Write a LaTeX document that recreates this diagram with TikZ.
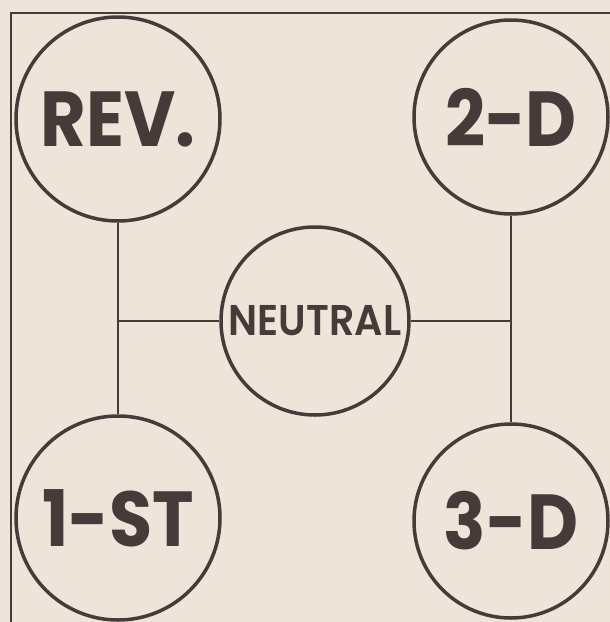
\documentclass[tikz,border=0pt]{standalone}
\usepackage{fontspec}
\setmainfont{Poppins}
\newfontfamily\midfont{Poppins SemiBold}
\definecolor{ink}{HTML}{453B38}
\definecolor{paper}{HTML}{EDE5DA}
\newcommand{\squeeze}[2][0.9]{\scalebox{#1}[1]{#2}}

\begin{document}
\begin{tikzpicture}[x=1pt,y=-1pt,
	gear/.style={circle, draw=ink, line width=3.5pt, inner sep=0pt, minimum size=#1, text=ink},
	big/.style={font=\bfseries\fontsize{78}{78}\selectfont},
	rod/.style={draw=ink, line width=2.5pt}]
	\clip (0,0) rectangle (610,622);
	\fill[paper] (0,0) rectangle (610,622);
	\draw[ink, line width=2.5pt] (11,13) rectangle (700,700);
	
	% gear positions
	\node[gear=204pt, big] (rev) at (118,119) {\squeeze{REV.}};
	\node[gear=194pt, big] (second) at (511,117) {\squeeze{2-D}};
	\node[gear=204pt, big] (first) at (118,518) {\squeeze{1-ST}};
	\node[gear=194pt, big] (third) at (511,521) {\squeeze{3-D}};
	\node[gear=188pt, font=\midfont\fontsize{43}{43}\selectfont] (neutral) at (315,321) {\squeeze[0.92]{NEUTRAL}};
	
	% shift rods
	\draw[rod] (rev) -- (first);
	\draw[rod] (second) -- (third);
	\draw[rod] (neutral.west) -- (neutral.west -| rev);
	\draw[rod] (neutral.east) -- (neutral.east -| second);
\end{tikzpicture}
\end{document}
